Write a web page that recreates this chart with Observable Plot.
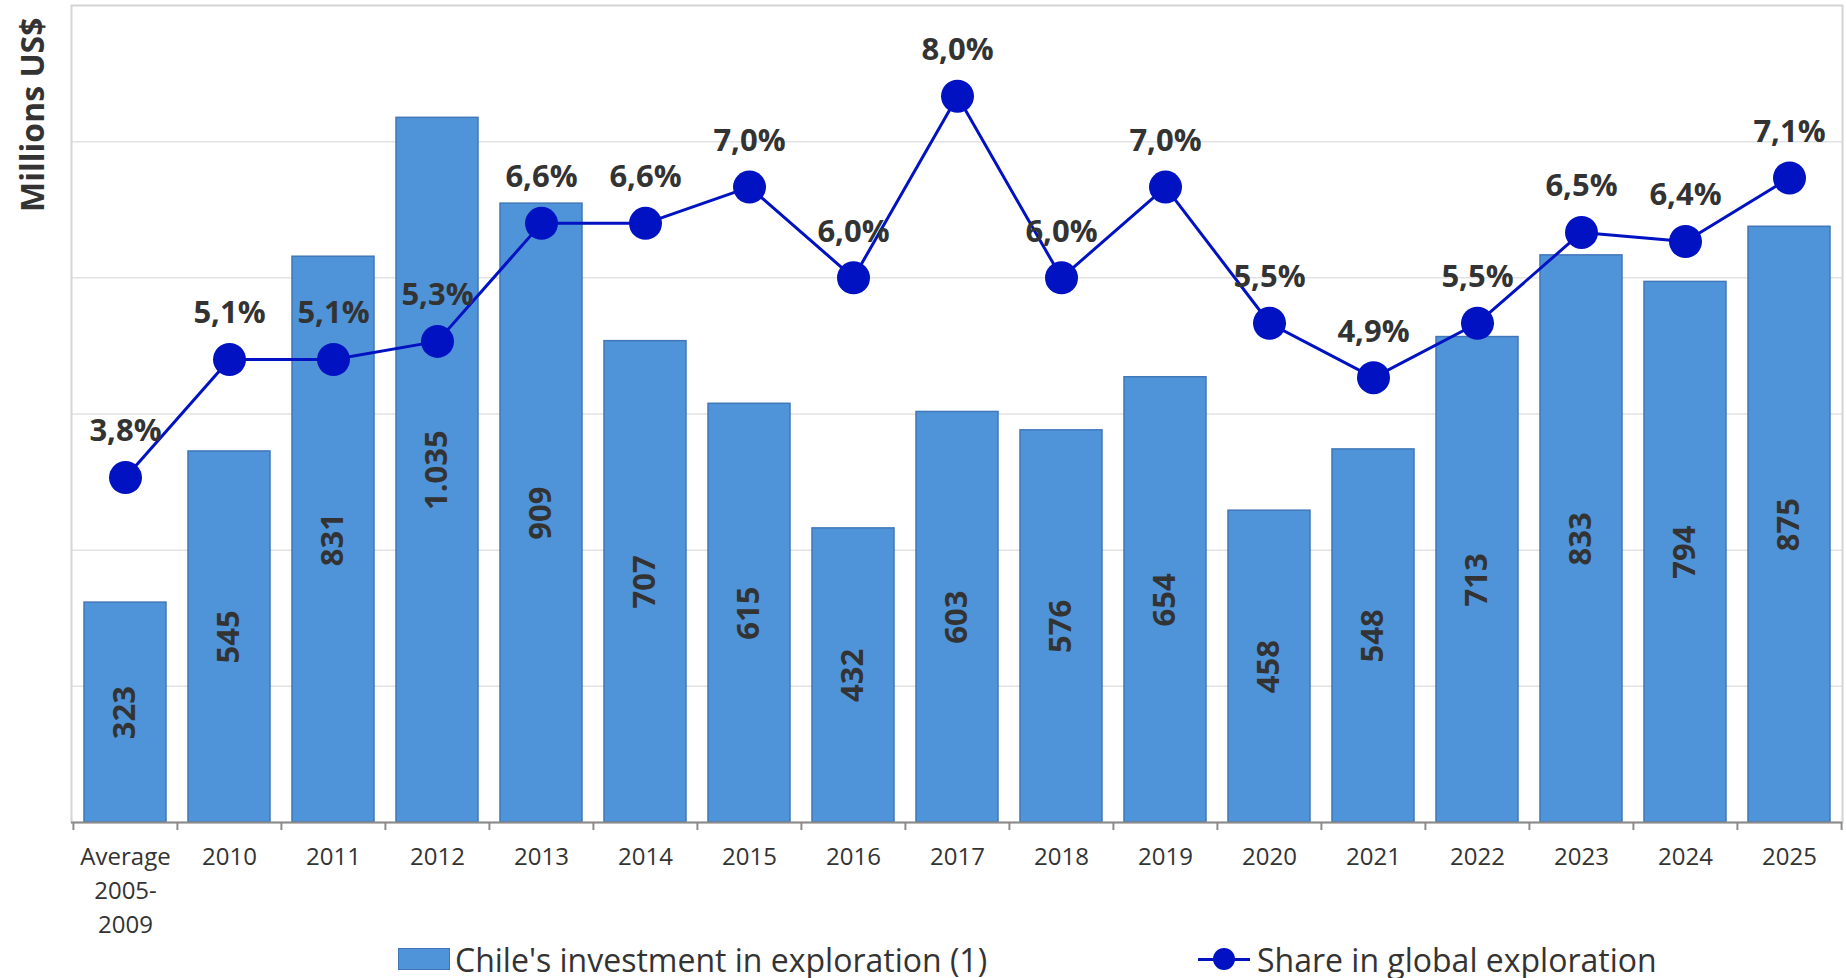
<!DOCTYPE html>
<html>
<head>
<meta charset="utf-8">
<script src="https://cdn.jsdelivr.net/npm/d3@7"></script>
<script src="https://cdn.jsdelivr.net/npm/@observablehq/plot@0.6"></script>
<style>
  html, body { margin: 0; padding: 0; background: #fff; }
  body { width: 1846px; height: 978px; overflow: hidden; font-family: "Open Sans", sans-serif; }
  #chart svg { display: block; }
  #legend { position: relative; height: 38px; font-size: 32px; color: #333; }
  .item { position: absolute; top: 0; height: 38px; display: flex; align-items: center; white-space: nowrap; }
  .sw { width: 52px; height: 22px; background: #4f94d9; border: 1px solid #4177b8; box-sizing: border-box; margin-right: 5px; }
  .ln { position: relative; width: 52px; height: 22px; margin-right: 7px; }
  .ln::before { content: ""; position: absolute; left: 0; right: 0; top: 9.5px; height: 3px; background: #0012c2; }
  .ln::after { content: ""; position: absolute; left: 15px; top: 0; width: 22px; height: 22px; border-radius: 50%; background: #0012c2; }
</style>
</head>
<body>
<div id="chart"></div>
<div id="legend">
  <div class="item" style="left:398px"><span class="sw"></span><span>Chile's investment in exploration (1)</span></div>
  <div class="item" style="left:1198px"><span class="ln"></span><span>Share in global exploration</span></div>
</div>
<script>
const categories = ["Average 2005-2009","2010","2011","2012","2013","2014","2015","2016","2017","2018","2019","2020","2021","2022","2023","2024","2025"];
const tickLabels = ["Average\n2005-\n2009","2010","2011","2012","2013","2014","2015","2016","2017","2018","2019","2020","2021","2022","2023","2024","2025"];
const investment = [323,545,831,1035,909,707,615,432,603,576,654,458,548,713,833,794,875];
const share = [3.8,5.1,5.1,5.3,6.6,6.6,7.0,6.0,8.0,6.0,7.0,5.5,4.9,5.5,6.5,6.4,7.1];
const yMax = 1200;      // primary axis: millions US$
const shareMax = 9;     // secondary (hidden) axis: percent
const gridValues = [200,400,600,800,1000];

const data = categories.map((c, i) => ({cat: c, value: investment[i], share: share[i], shareY: share[i] * yMax / shareMax}));
const labelOf = new Map(categories.map((c, i) => [c, tickLabels[i]]));

const fmtInt = v => v.toLocaleString("de-DE");
const fmtPct = v => v.toFixed(1).replace(".", ",") + "%";

const W = 1846, H = 940, ML = 71, MR = 4, MT = 5, MB = 118;
const bw = (W - ML - MR) / categories.length;
const textColor = "#333333";
const barFill = "#4f94d9", barStroke = "#4177b8", lineColor = "#0012c2";

const chart = Plot.plot({
  width: W, height: H,
  marginLeft: ML, marginRight: MR, marginTop: MT, marginBottom: MB,
  style: {fontFamily: "'Open Sans', sans-serif", background: "white", color: textColor, overflow: "visible"},
  x: {type: "band", domain: categories, padding: 0, axis: null},
  y: {domain: [0, yMax], axis: null},
  marks: [
    Plot.ruleY(gridValues, {stroke: "#e2e2e2", strokeWidth: 1.5}),
    Plot.frame({stroke: "#d4d4d4", strokeWidth: 2}),
    Plot.barY(data, {x: "cat", y: "value", fill: barFill, stroke: barStroke, strokeWidth: 1.5, insetLeft: 11, insetRight: 11}),
    Plot.ruleY([0], {stroke: "#8c8c8c", strokeWidth: 2}),
    Plot.ruleX(categories, {x: d => d, dx: -bw / 2, stroke: "#8c8c8c", strokeWidth: 2, insetTop: H - MT - MB, insetBottom: -8}),
    Plot.ruleX([categories[categories.length - 1]], {x: d => d, dx: bw / 2, stroke: "#8c8c8c", strokeWidth: 2, insetTop: H - MT - MB, insetBottom: -8}),
    Plot.text(data, {x: "cat", y: d => d.value / 2, text: d => fmtInt(d.value), rotate: -90, fontSize: 31, fontWeight: "bold", fill: textColor}),
    Plot.line(data, {x: "cat", y: "shareY", stroke: lineColor, strokeWidth: 3}),
    Plot.dot(data, {x: "cat", y: "shareY", r: 16.5, fill: lineColor, stroke: "none"}),
    Plot.text(data, {x: "cat", y: "shareY", text: d => fmtPct(d.share), dy: -46, fontSize: 31, fontWeight: "bold", fill: textColor}),
    Plot.axisX({tickSize: 0, tickPadding: 19, fontSize: 24, lineHeight: 1.4, tickFormat: d => labelOf.get(d), label: null, color: textColor}),
    Plot.text(["Millions US$"], {frameAnchor: "top-left", dx: -50, dy: 12, rotate: -90, textAnchor: "end", fontSize: 32, fontWeight: "bold", fill: textColor})
  ]
});
document.getElementById("chart").appendChild(chart);
</script>
</body>
</html>
